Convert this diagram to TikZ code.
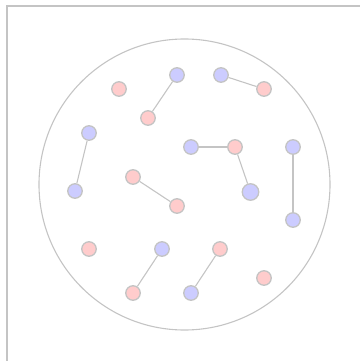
\documentclass[tikz,border=0pt]{standalone}
\usepackage{xcolor}
\usepackage{tikz}
\definecolor{rimgray}{HTML}{C4C4C4}
\definecolor{pinkfill}{HTML}{FFCCCC}
\definecolor{bluefill}{HTML}{CCCCFF}

\begin{document}
\begin{tikzpicture}[
  x=1pt,
  y=-1pt,
  frame/.style={draw=rimgray, line width=1.8pt},
  ring/.style={draw=rimgray, line width=1.1pt},
  link/.style={draw=rimgray, line width=1.1pt},
  dot/.style={circle, draw=rimgray, line width=1.3pt, inner sep=0pt, minimum size=14.5pt},
  pinkdot/.style={dot, fill=pinkfill},
  bluedot/.style={dot, fill=bluefill}
]
  \useasboundingbox (0,0) rectangle (360,361);
  \draw[frame] (7,361) -- (7,6) -- (360,6);

  \draw[ring] (184.5,184.5) circle (145.5);

  \foreach \n/\x/\y in {r1/119/89, r2/148/118, r3/264/89, r4/235/147,
                        r5/133/177, r6/177/206, r7/89/249, r8/133/293,
                        r9/220/249, r10/264/278} {
    \node[pinkdot] (\n) at (\x,\y) {};
  }
  \foreach \n/\x/\y in {b1/177/75, b2/221/75, b3/89/133, b4/75/191,
                        b5/191/147, b7/293/147, b8/293/220, b9/162/249,
                        b10/191/293} {
    \node[bluedot] (\n) at (\x,\y) {};
  }
  \node[bluedot, minimum size=16.5pt] (b6) at (250.5,192) {};

  \foreach \a/\b in {b1/r2, b2/r3, b3/b4, b5/r4, r4/b6, b7/b8, r5/r6, b9/r8, r9/b10} {
    \draw[link] (\a) -- (\b);
  }
\end{tikzpicture}
\end{document}
